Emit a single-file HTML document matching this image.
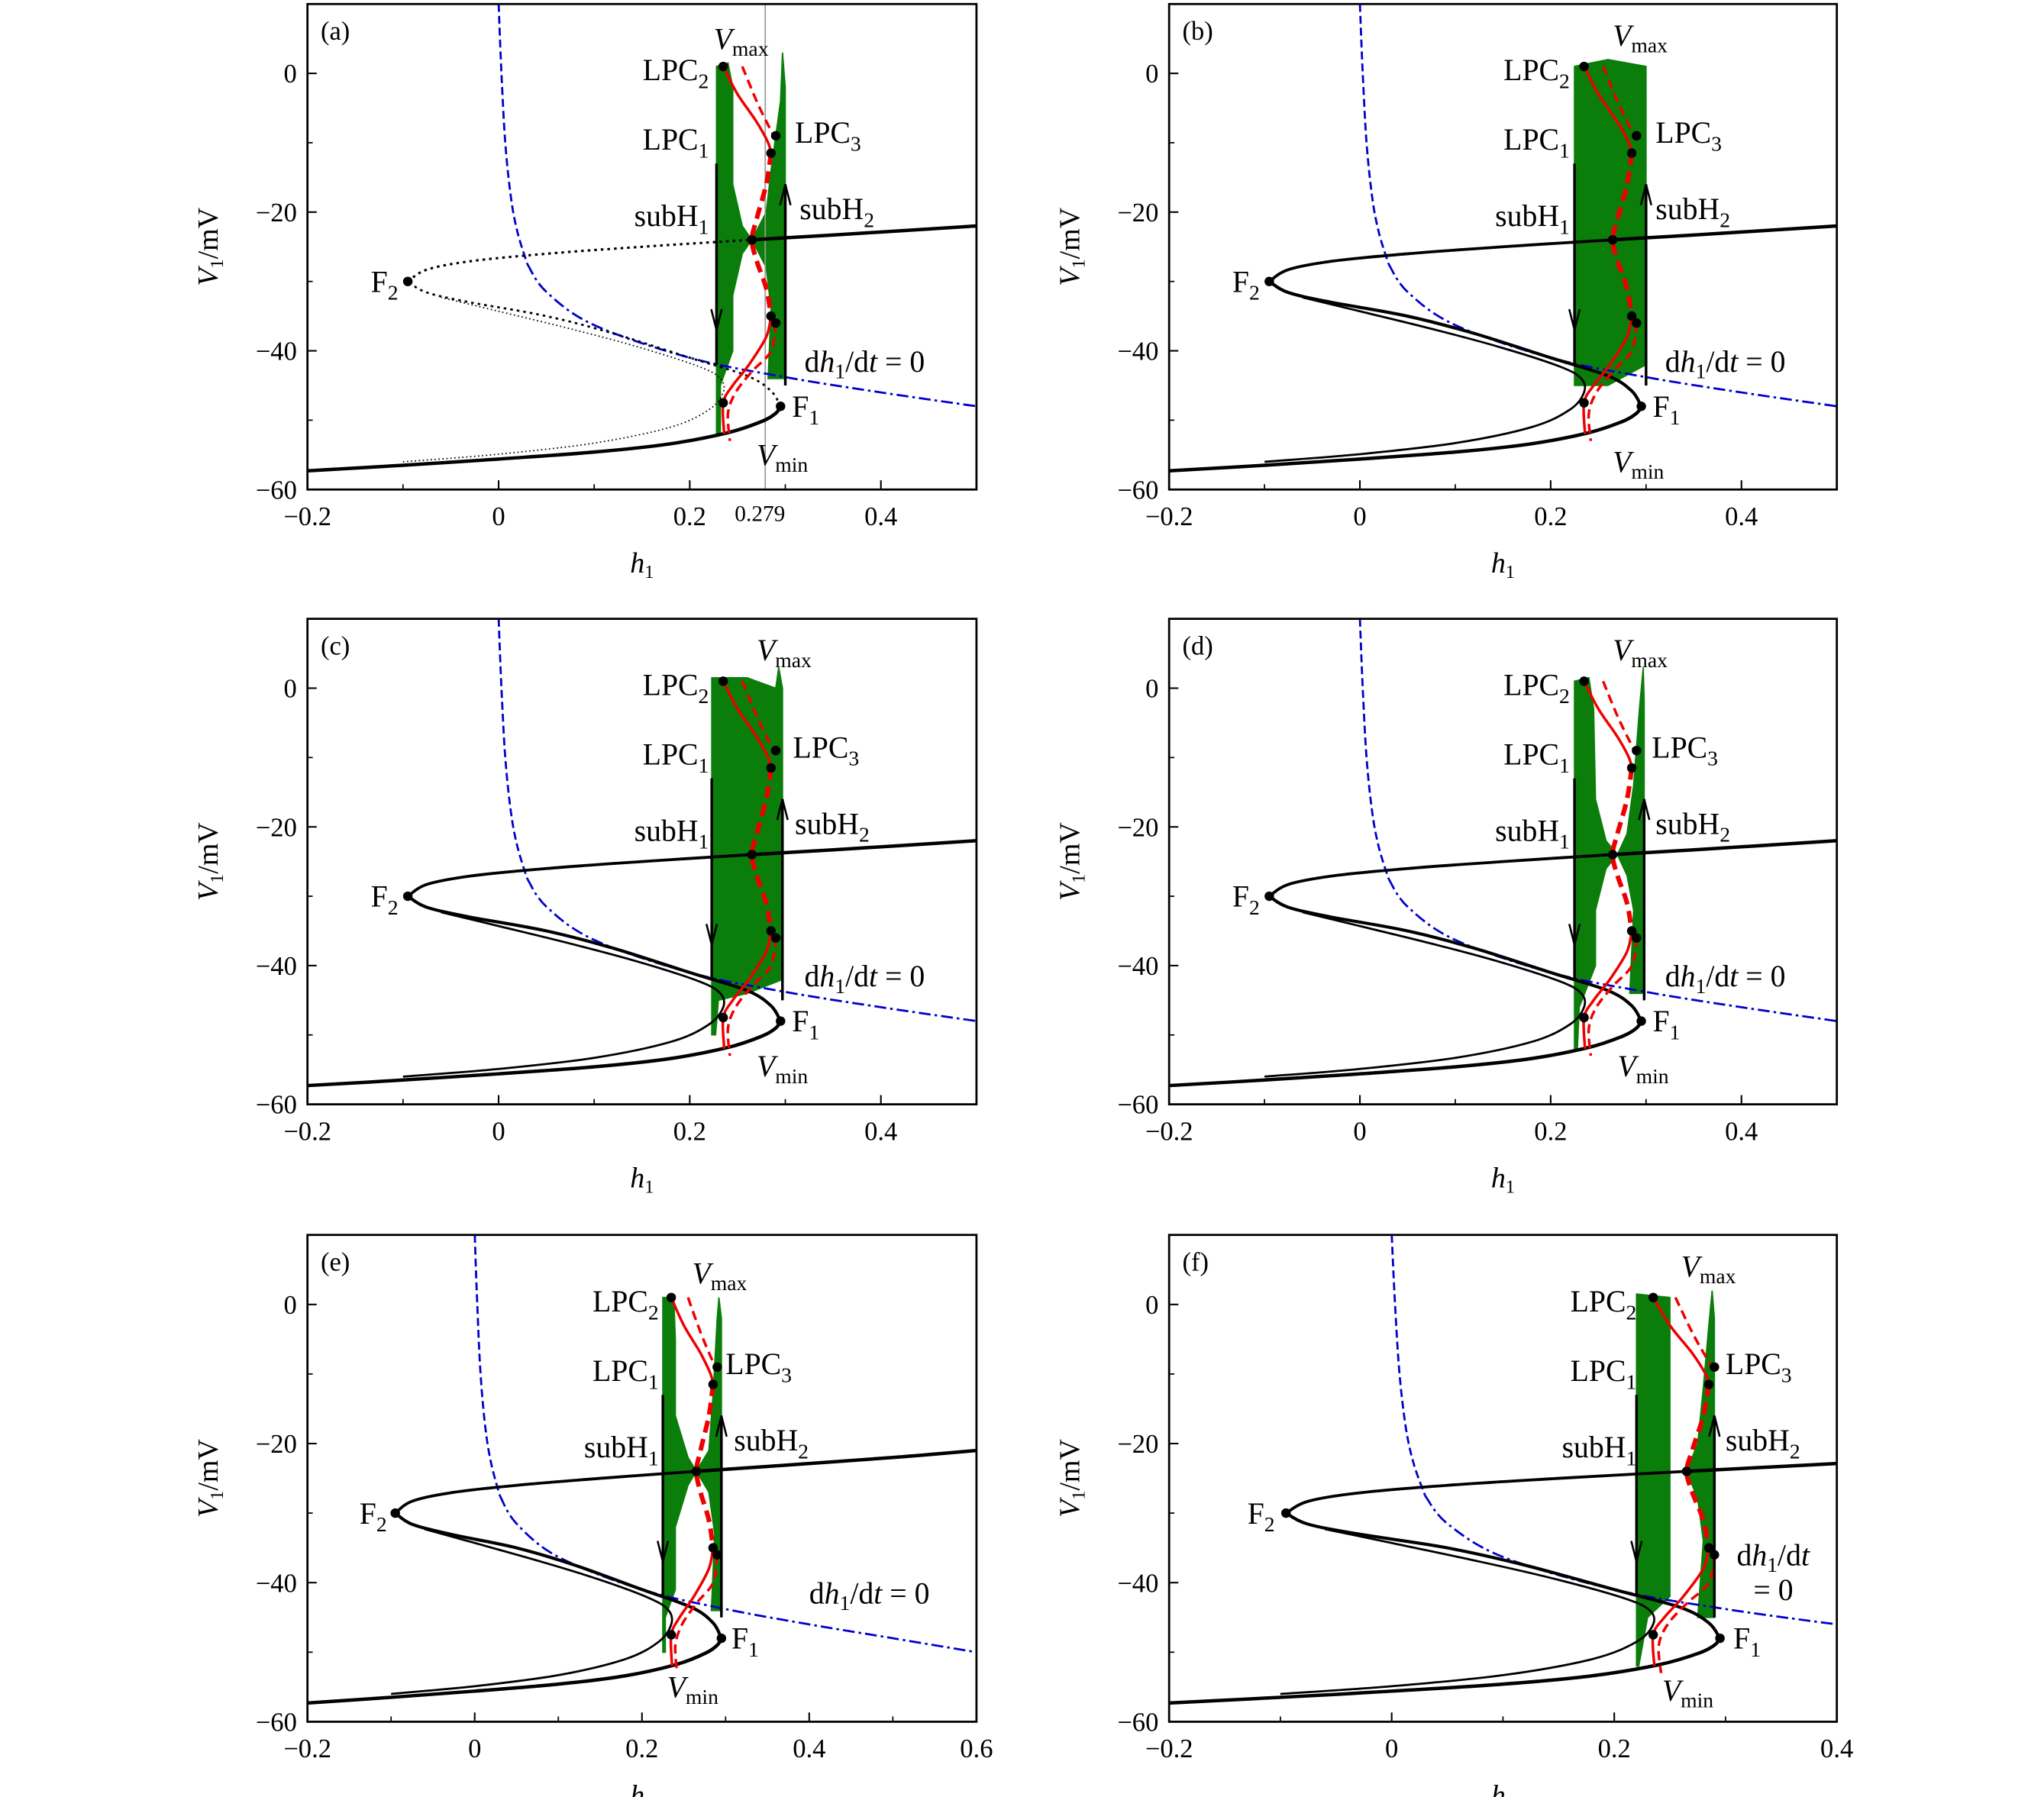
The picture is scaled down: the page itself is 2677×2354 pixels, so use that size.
<!DOCTYPE html>
<html><head><meta charset="utf-8"><style>
html,body{margin:0;padding:0;background:#fff}
svg{display:block}
text{font-family:"Liberation Serif",serif;fill:#000}
</style></head><body>
<svg id="fig" xmlns="http://www.w3.org/2000/svg" width="2677" height="2354" viewBox="0 0 1549 1362"></svg>
<script>
// ---- data (h1, V1) ----
const sLower = [[-0.2,-57.3],[-0.1,-56.5],[0,-55.6],[0.1,-54.6],[0.18,-53.4],[0.24,-51.8],[0.275,-50.2],[0.29,-49],[0.295,-48]];
const sMiddle = [[0.295,-48],[0.285,-45.8],[0.26,-43.6],[0.2,-41],[0.12,-37.5],[0.05,-35],[-0.03,-33],[-0.075,-31.6],[-0.095,-30]];
const sUpper = [[-0.095,-30],[-0.075,-28.3],[-0.03,-27.1],[0.05,-26],[0.15,-25],[0.265,-24],[0.35,-23.3],[0.5,-22],[0.6,-21]];
const sInner = [[-0.1,-56],[0,-54.9],[0.1,-53.3],[0.18,-51],[0.22,-48.5],[0.235,-46],[0.232,-44],[0.21,-42.3],[0.15,-39.6],[0.08,-37],[0,-34.3],[-0.06,-32.3]];
const nullUpper = [[0,10],[0.003,0],[0.007,-10],[0.013,-18],[0.02,-23],[0.03,-27.5]];
const nullLower = [[0.03,-27.5],[0.05,-31.5],[0.1,-36.3],[0.2,-41],[0.3,-43.8],[0.4,-46],[0.5,-48],[0.6,-50]];
const redSolidTop = [[0.235,1],[0.25,-3],[0.27,-7],[0.282,-10],[0.285,-11.5]];
const redDashTop = [[0.255,1],[0.27,-4],[0.284,-8],[0.29,-9.5]];
const redDashMid = [[0.285,-11.5],[0.28,-16],[0.27,-21],[0.265,-24],[0.27,-27],[0.28,-31],[0.285,-35]];
const redSolidLow = [[0.285,-35],[0.28,-38],[0.262,-42],[0.245,-45],[0.235,-47.5],[0.236,-52]];
const redDashLow = [[0.29,-36],[0.285,-40],[0.265,-43],[0.248,-46],[0.24,-49],[0.242,-53]];
const keyDots = [[0.235,1],[0.29,-9],[0.285,-11.5],[0.265,-24],[0.285,-35],[0.29,-36],[0.235,-47.5],[0.295,-48],[-0.095,-30]];
const yTicks = [0,-20,-40,-60];
const xTicksAD = [-0.2,0,0.2,0.4];
const xTicksE = [-0.2,0,0.2,0.4,0.6];
const xTicksF = [-0.2,0,0.2,0.4];
const greenA = [[[0.228,-52],[0.228,1],[0.24,1.5],[0.245,-2],[0.245,-16],[0.255,-22],[0.265,-24],[0.255,-26],[0.245,-32],[0.245,-40],[0.232,-45],[0.232,-52]],[[0.282,-44],[0.285,-34],[0.28,-28],[0.265,-24],[0.28,-20],[0.285,-14],[0.295,-4],[0.297,3],[0.3,-2],[0.3,-44]]];
const greenB = [[[0.225,-45],[0.225,1],[0.26,2],[0.3,1],[0.3,-42],[0.26,-45]]];
const greenC = [[[0.223,-50],[0.223,1.5],[0.26,1.5],[0.29,0],[0.293,3],[0.297,0],[0.297,-42],[0.26,-44],[0.23,-45],[0.227,-50]]];
const greenD = [[[0.225,-52],[0.225,1],[0.24,1.5],[0.245,-3],[0.247,-16],[0.258,-22],[0.27,-24],[0.258,-26],[0.247,-32],[0.247,-40],[0.23,-46],[0.228,-52]],[[0.283,-44],[0.287,-32],[0.28,-27],[0.27,-24],[0.28,-21],[0.287,-14],[0.293,-3],[0.297,3],[0.298,-2],[0.298,-44]]];
const greenE = [[[0.225,-50],[0.225,1],[0.238,1],[0.24,-5],[0.24,-16],[0.255,-22],[0.265,-24],[0.255,-26],[0.24,-32],[0.24,-41],[0.228,-45],[0.228,-50]],[[0.283,-44],[0.287,-33],[0.28,-27],[0.265,-24],[0.28,-21],[0.285,-13],[0.29,-2],[0.292,1],[0.295,-2],[0.295,-44]]];
const greenF = [[[0.22,-52],[0.22,1.5],[0.25,1],[0.25,-42],[0.23,-45],[0.222,-52]],[[0.275,-45],[0.28,-34],[0.275,-28],[0.265,-24],[0.275,-20],[0.28,-12],[0.285,-3],[0.288,2],[0.29,-2],[0.29,-45]]];
const panelLetters = ['(a)','(b)','(c)','(d)','(e)','(f)'];

const NS='http://www.w3.org/2000/svg';
const svg=document.getElementById('fig');
function mk(parent,tag,attrs,name){
  const el=document.createElementNS(NS,tag);
  for(const k in attrs) el.setAttribute(k,attrs[k]);
  
  
  parent.appendChild(el);
  return el;
}
function txt(parent,x,y,str,opts,name){
  const t=mk(parent,'text',Object.assign({x:x,y:y,'font-size':20},opts||{}),name);
  t.innerHTML=str;
  return t;
}
function drawPanel(cfg){
  const g=mk(svg,'g',{},'panel-'+cfg.id);
  const X=h=>cfg.x0+(h-cfg.xmin)/(cfg.xmax-cfg.xmin)*(cfg.x1-cfg.x0);
  const Y=v=>cfg.y1-(v+60)/70*(cfg.y1-cfg.y0);
  const cp=mk(svg,'clipPath',{id:'cp'+cfg.id},'clip');
  mk(cp,'rect',{x:cfg.x0,y:cfg.y0,width:cfg.x1-cfg.x0,height:cfg.y1-cfg.y0},'clip-rect');
  const inner=mk(g,'g',{'clip-path':'url(#cp'+cfg.id+')'},'plot-area');
  const P=arr=>arr.map((p,i)=>(i?'L':'M')+X(p[0]).toFixed(1)+','+Y(p[1]).toFixed(1)).join('');
  const S=arr=>{ // smooth catmull-rom
    const q=arr.map(p=>[X(p[0]),Y(p[1])]);
    let d='M'+q[0][0].toFixed(1)+','+q[0][1].toFixed(1);
    for(let i=0;i<q.length-1;i++){
      const p0=q[Math.max(0,i-1)],p1=q[i],p2=q[i+1],p3=q[Math.min(q.length-1,i+2)];
      const c1=[p1[0]+(p2[0]-p0[0])/6,p1[1]+(p2[1]-p0[1])/6];
      const c2=[p2[0]-(p3[0]-p1[0])/6,p2[1]-(p3[1]-p1[1])/6];
      d+=`C${c1[0].toFixed(1)},${c1[1].toFixed(1)} ${c2[0].toFixed(1)},${c2[1].toFixed(1)} ${p2[0].toFixed(1)},${p2[1].toFixed(1)}`;
    }
    return d;
  };
  // green
  cfg.green.forEach(poly=>mk(inner,'path',{d:P(poly)+'Z',fill:'#0a7d0a',stroke:'#0a7d0a','stroke-width':1},'periodic-orbit-envelope'));
  if(cfg.id==='a') mk(inner,'line',{x1:X(0.279),x2:X(0.279),y1:cfg.y0,y2:cfg.y1,stroke:'#999','stroke-width':1},'h-0279-marker');
  // nullcline
  mk(inner,'path',{d:S(nullUpper),fill:'none',stroke:'#0000cc','stroke-width':1.6,'stroke-dasharray':'6 3'},'nullcline-upper');
  mk(inner,'path',{d:S(nullLower),fill:'none',stroke:'#0000cc','stroke-width':1.6,'stroke-dasharray':'9 3 2 3'},'nullcline-dh1dt-zero');
  // S-curve
  const dotted=cfg.id==='a';
  mk(inner,'path',{d:S(sLower),fill:'none',stroke:'#000','stroke-width':2.6},'s-curve-lower');
  mk(inner,'path',{d:S(sMiddle),fill:'none',stroke:'#000','stroke-width':dotted?1.6:2.4,'stroke-dasharray':dotted?'2 3':'none'},'s-curve-middle');
  mk(inner,'path',{d:S(sUpper.filter(p=>p[0]<=0.265)),fill:'none',stroke:'#000','stroke-width':dotted?1.8:2.2,'stroke-dasharray':dotted?'2 3':'none'},'s-curve-upper-unstable');
  mk(inner,'path',{d:S(sUpper.filter(p=>p[0]>=0.265)),fill:'none',stroke:'#000','stroke-width':2.6},'s-curve-upper-stable');
  mk(inner,'path',{d:S(sInner),fill:'none',stroke:'#000','stroke-width':dotted?1:1.6,'stroke-dasharray':dotted?'1 2':'none'},'trajectory-inner');
  // red
  mk(inner,'path',{d:S(redSolidTop),fill:'none',stroke:'#e00','stroke-width':2},'red-stable-upper');
  mk(inner,'path',{d:S(redDashTop),fill:'none',stroke:'#e00','stroke-width':2,'stroke-dasharray':'7 4'},'red-unstable-upper');
  mk(inner,'path',{d:S(redDashMid),fill:'none',stroke:'#e00','stroke-width':3.5,'stroke-dasharray':'9 5'},'red-unstable-middle');
  mk(inner,'path',{d:S(redSolidLow),fill:'none',stroke:'#e00','stroke-width':2},'red-stable-lower');
  mk(inner,'path',{d:S(redDashLow),fill:'none',stroke:'#e00','stroke-width':2,'stroke-dasharray':'7 4'},'red-unstable-lower');
  // arrows
  mk(inner,'line',{x1:X(cfg.ax1),x2:X(cfg.ax1),y1:Y(-13),y2:Y(-42),stroke:'#000','stroke-width':2},'jump-down-line');
  mk(inner,'path',{d:`M${X(cfg.ax1)-4},${Y(-34)}L${X(cfg.ax1)},${Y(-37)}L${X(cfg.ax1)+4},${Y(-34)}`,fill:'none',stroke:'#000','stroke-width':1.5},'jump-down-arrow');
  mk(inner,'line',{x1:X(cfg.ax2),x2:X(cfg.ax2),y1:Y(-45),y2:Y(-16),stroke:'#000','stroke-width':2},'jump-up-line');
  mk(inner,'path',{d:`M${X(cfg.ax2)-4},${Y(-19)}L${X(cfg.ax2)},${Y(-16)}L${X(cfg.ax2)+4},${Y(-19)}`,fill:'none',stroke:'#000','stroke-width':1.5},'jump-up-arrow');
  // dots
  keyDots.forEach(d=>mk(inner,'circle',{cx:X(d[0]),cy:Y(d[1]),r:3.6,fill:'#000'},'bifurcation-point'));
  // frame & ticks
  mk(g,'rect',{x:cfg.x0,y:cfg.y0,width:cfg.x1-cfg.x0,height:cfg.y1-cfg.y0,fill:'none',stroke:'#000','stroke-width':1.6},'plot-frame');
  cfg.xt.forEach(v=>{
    mk(g,'line',{x1:X(v),x2:X(v),y1:cfg.y1,y2:cfg.y1-7,stroke:'#000','stroke-width':1.2},'x-tick');
    txt(g,X(v),cfg.y1+27,(v<0?'−':'')+Math.abs(v),{'text-anchor':'middle'},'x-tick-label');
  });
  for(let i=0;i<cfg.xt.length-1;i++){const m=(cfg.xt[i]+cfg.xt[i+1])/2;mk(g,'line',{x1:X(m),x2:X(m),y1:cfg.y1,y2:cfg.y1-4,stroke:'#000'},'x-minor-tick');}
  yTicks.forEach(v=>{
    mk(g,'line',{x1:cfg.x0,x2:cfg.x0+7,y1:Y(v),y2:Y(v),stroke:'#000','stroke-width':1.2},'y-tick');
    txt(g,cfg.x0-8,Y(v)+7,(v<0?'−':'')+Math.abs(v),{'text-anchor':'end'},'y-tick-label');
  });
  [-10,-30,-50].forEach(v=>mk(g,'line',{x1:cfg.x0,x2:cfg.x0+4,y1:Y(v),y2:Y(v),stroke:'#000'},'y-minor-tick'));
  if(cfg.id==='a') txt(g,X(0.279)-4,cfg.y1+24,'0.279',{'text-anchor':'middle','font-size':17},'x-special-label');
  txt(g,(cfg.x0+cfg.x1)/2,cfg.y1+63,'<tspan font-style="italic">h</tspan><tspan font-size="14" dy="4">1</tspan>',{'text-anchor':'middle','font-size':22},'x-axis-title');
  txt(g,0,0,'<tspan font-style="italic">V</tspan><tspan font-size="14" dy="4">1</tspan><tspan dy="-4">/mV</tspan>',{'text-anchor':'middle','font-size':22,transform:`translate(${cfg.x0-68},${(cfg.y0+cfg.y1)/2}) rotate(-90)`},'y-axis-title');
  // labels
  txt(g,cfg.x0+10,cfg.y0+27,panelLetters[cfg.n],{},'panel-label');
  const L=cfg.lab;
  const F=23;
  const sub=(a,b)=>a+'<tspan font-size="16" dy="6">'+b+'</tspan>';
  txt(g,X(L.vmax[0]),Y(L.vmax[1]),'<tspan font-style="italic">V</tspan><tspan font-size="16" dy="5">max</tspan>',{'font-size':F},'vmax-label');
  txt(g,X(0.22),Y(-1),sub('LPC','2'),{'text-anchor':'end','font-size':F},'lpc2-label');
  txt(g,X(0.22),Y(-11),sub('LPC','1'),{'text-anchor':'end','font-size':F},'lpc1-label');
  txt(g,X(L.lpc3),Y(-10),sub('LPC','3'),{'font-size':F},'lpc3-label');
  txt(g,X(0.22),Y(-22),sub('subH','1'),{'text-anchor':'end','font-size':F},'subh1-label');
  txt(g,X(L.subh2),Y(-21),sub('subH','2'),{'font-size':F},'subh2-label');
  txt(g,X(-0.105),Y(-31.5),sub('F','2'),{'text-anchor':'end','font-size':F},'f2-label');
  txt(g,X(0.307),Y(-49.5),sub('F','1'),{'font-size':F},'f1-label');
  txt(g,X(L.vmin[0]),Y(L.vmin[1]),'<tspan font-style="italic">V</tspan><tspan font-size="16" dy="5">min</tspan>',{'font-size':F},'vmin-label');
  if(cfg.id==='f'){
    txt(g,X(0.31),Y(-37.5),'d<tspan font-style="italic">h</tspan><tspan font-size="16" dy="5">1</tspan><tspan dy="-5">/d</tspan><tspan font-style="italic">t</tspan>',{'font-size':F},'nullcline-label');
    txt(g,X(0.325),Y(-42.5),'= 0',{'font-size':F},'nullcline-label-2');
  } else {
    txt(g,X(L.dh),Y(-43),'d<tspan font-style="italic">h</tspan><tspan font-size="16" dy="5">1</tspan><tspan dy="-5">/d</tspan><tspan font-style="italic">t</tspan> = 0',{'font-size':F},'nullcline-label');
  }
}
const cfgs=[
 {id:'a',n:0,x0:233,x1:740,y0:3,y1:371,xmin:-0.2,xmax:0.5,xt:xTicksAD,green:greenA,ax1:0.228,ax2:0.3,lab:{vmax:[0.225,3.5],lpc3:0.31,subh2:0.315,vmin:[0.27,-56.5],dh:0.32}},
 {id:'b',n:1,x0:886,x1:1392,y0:3,y1:371,xmin:-0.2,xmax:0.5,xt:xTicksAD,green:greenB,ax1:0.225,ax2:0.3,lab:{vmax:[0.265,4],lpc3:0.31,subh2:0.31,vmin:[0.265,-57.5],dh:0.32}},
 {id:'c',n:2,x0:233,x1:740,y0:469,y1:837,xmin:-0.2,xmax:0.5,xt:xTicksAD,green:greenC,ax1:0.223,ax2:0.297,lab:{vmax:[0.27,4],lpc3:0.308,subh2:0.31,vmin:[0.27,-56],dh:0.32}},
 {id:'d',n:3,x0:886,x1:1392,y0:469,y1:837,xmin:-0.2,xmax:0.5,xt:xTicksAD,green:greenD,ax1:0.225,ax2:0.298,lab:{vmax:[0.265,4],lpc3:0.306,subh2:0.31,vmin:[0.27,-56],dh:0.32}},
 {id:'e',n:4,x0:233,x1:740,y0:936,y1:1305,xmin:-0.2,xmax:0.6,xt:xTicksE,green:greenE,ax1:0.225,ax2:0.295,lab:{vmax:[0.26,3],lpc3:0.3,subh2:0.31,vmin:[0.23,-56.5],dh:0.4}},
 {id:'f',n:5,x0:886,x1:1392,y0:936,y1:1305,xmin:-0.2,xmax:0.4,xt:xTicksF,green:greenF,ax1:0.22,ax2:0.29,lab:{vmax:[0.26,4],lpc3:0.3,subh2:0.3,vmin:[0.243,-57],dh:0.3}}
];
cfgs.forEach(drawPanel);
</script>
</body></html>
